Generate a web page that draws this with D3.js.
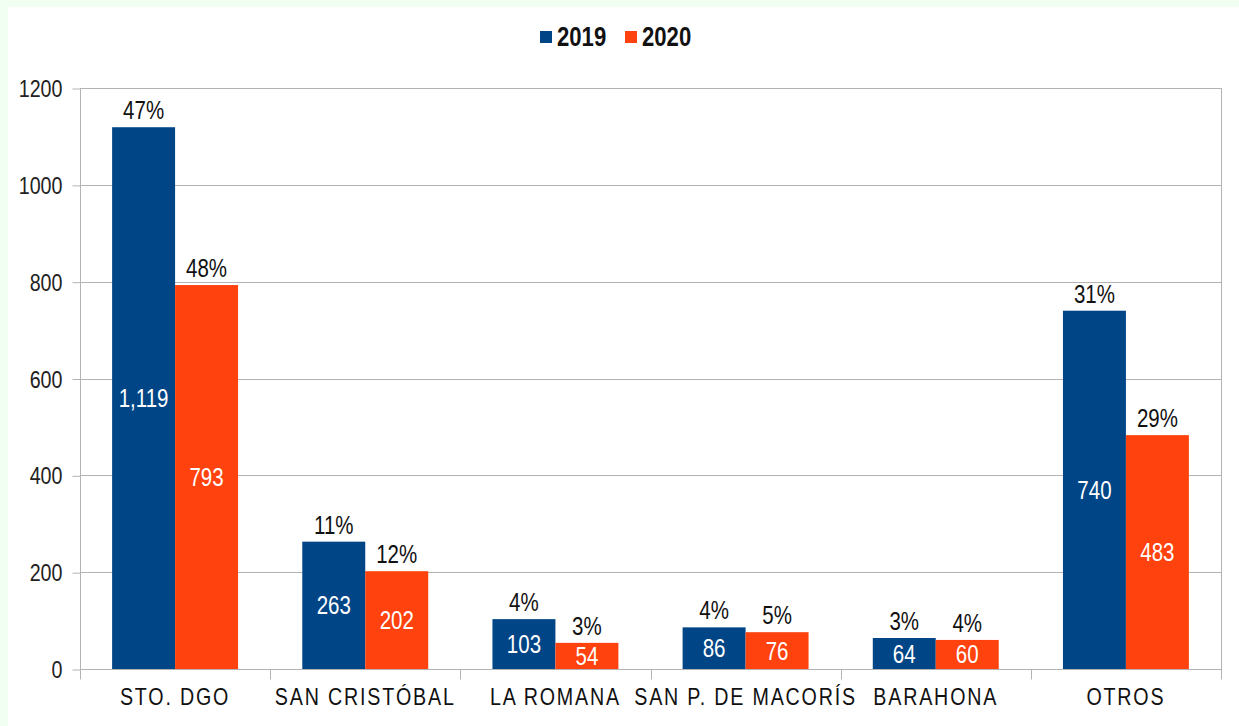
<!DOCTYPE html>
<html>
<head>
<meta charset="utf-8">
<script src="https://d3js.org/d3.v7.min.js"></script>
<style>
  body { margin: 0; background: #f0fff2; }
  svg { display: block; }
  text { font-family: 'Liberation Sans', Arial, sans-serif; }
</style>
</head>
<body>
<svg width="1239" height="726"></svg>
<script>
var categories = ["STO. DGO", "SAN CRISTÓBAL", "LA ROMANA", "SAN P. DE MACORÍS", "BARAHONA", "OTROS"];
var years = ["2019", "2020"];
var values2019 = [1119, 263, 103, 86, 64, 740];
var values2020 = [793, 202, 54, 76, 60, 483];
var pct2019 = ["47%", "11%", "4%", "4%", "3%", "31%"];
var pct2020 = ["48%", "12%", "3%", "5%", "4%", "29%"];
var yTicks = [0, 200, 400, 600, 800, 1000, 1200];

var colors = { "2019": "#004586", "2020": "#ff420e" };
var NARROW = 0.82; // squeeze Liberation Sans to look like the narrow face

var svg = d3.select("svg");

// place a text at (x, y) and squeeze it horizontally
function at(x, y) {
    return "translate(" + x + "," + y + ") scale(" + NARROW + ",1)";
}

// white card
svg.append("rect")
    .attr("x", 8).attr("y", 7)
    .attr("width", 1239 - 8).attr("height", 726 - 7)
    .attr("fill", "#fff");

var margin = { left: 80, right: 1221, top: 88, bottom: 669 };

var x0 = d3.scaleBand()
    .domain(categories)
    .range([margin.left, margin.right]);

var x1 = d3.scaleBand()
    .domain(years)
    .range([0, x0.bandwidth()])
    .paddingOuter(0.51);

var y = d3.scaleLinear()
    .domain([0, 1200])
    .range([margin.bottom, margin.top]);

var data = categories.map(function(c, i) {
    return {
        cat: c,
        bars: [
            { year: "2019", value: values2019[i], pct: pct2019[i] },
            { year: "2020", value: values2020[i], pct: pct2020[i] }
        ]
    };
});

// gridlines
svg.append("g")
    .selectAll("line")
    .data(yTicks)
    .enter().append("line")
    .attr("x1", margin.left)
    .attr("x2", margin.right)
    .attr("y1", function(d) { return Math.round(y(d)) + 0.5; })
    .attr("y2", function(d) { return Math.round(y(d)) + 0.5; })
    .attr("stroke", "#b3b3b3");

// right border
svg.append("line")
    .attr("x1", margin.right + 0.5).attr("x2", margin.right + 0.5)
    .attr("y1", margin.top).attr("y2", margin.bottom)
    .attr("stroke", "#b3b3b3");

// bars
var groups = svg.append("g")
    .selectAll("g")
    .data(data)
    .enter().append("g")
    .attr("transform", function(d) { return "translate(" + x0(d.cat) + ",0)"; });

groups.selectAll("rect")
    .data(function(d) { return d.bars; })
    .enter().append("rect")
    .attr("x", function(d) { return x1(d.year); })
    .attr("width", x1.bandwidth())
    .attr("y", function(d) { return y(d.value); })
    .attr("height", function(d) { return y(0) - y(d.value); })
    .attr("fill", function(d) { return colors[d.year]; });

// value labels inside bars
groups.selectAll("text.val")
    .data(function(d) { return d.bars; })
    .enter().append("text")
    .attr("class", "val")
    .attr("transform", function(d) {
        return at(x1(d.year) + x1.bandwidth() / 2, (y(d.value) + y(0)) / 2 + 9);
    })
    .attr("text-anchor", "middle")
    .attr("fill", "#fff")
    .style("font-size", "25px")
    .text(function(d) { return d3.format(",")(d.value); });

// percent labels above bars
groups.selectAll("text.pct")
    .data(function(d) { return d.bars; })
    .enter().append("text")
    .attr("class", "pct")
    .attr("transform", function(d) {
        return at(x1(d.year) + x1.bandwidth() / 2, y(d.value) - 8);
    })
    .attr("text-anchor", "middle")
    .attr("fill", "#111")
    .style("font-size", "25px")
    .text(function(d) { return d.pct; });

// y axis
var yAxis = svg.append("g")
    .attr("transform", "translate(" + (margin.left + 0.5) + ",0.5)")
    .call(d3.axisLeft(y).tickValues(yTicks).tickSize(8).tickFormat(d3.format("d")));
yAxis.selectAll("line, path").attr("stroke", "#b3b3b3");
yAxis.select(".domain").attr("d", "M0," + y(1200) + "V" + y(0));
yAxis.selectAll(".tick text")
    .attr("x", null).attr("dy", null)
    .attr("transform", at(-18, 8))
    .attr("fill", "#222")
    .style("font-size", "24px");
yAxis.attr("font-family", null).attr("font-size", null);

// x axis
var xAxis = svg.append("g")
    .attr("transform", "translate(0," + (margin.bottom + 0.5) + ")");
xAxis.append("line")
    .attr("x1", margin.left).attr("x2", margin.right + 1)
    .attr("stroke", "#b3b3b3");
xAxis.selectAll("line.tick")
    .data(d3.range(categories.length + 1))
    .enter().append("line")
    .attr("class", "tick")
    .attr("x1", function(i) { return Math.round(margin.left + i * x0.bandwidth()) + 0.5; })
    .attr("x2", function(i) { return Math.round(margin.left + i * x0.bandwidth()) + 0.5; })
    .attr("y1", 0).attr("y2", 10)
    .attr("stroke", "#b3b3b3");
xAxis.selectAll("text")
    .data(categories)
    .enter().append("text")
    .attr("transform", function(d) { return at(x0(d) + x0.bandwidth() / 2, 35); })
    .attr("text-anchor", "middle")
    .attr("fill", "#111")
    .style("font-size", "24px")
    .style("letter-spacing", "2.2px")
    .text(function(d) { return d; });

// legend
var legend = svg.append("g");
var legendX = { "2019": 540, "2020": 625 };
years.forEach(function(yr) {
    legend.append("rect")
        .attr("x", legendX[yr]).attr("y", 31)
        .attr("width", 12).attr("height", 12)
        .attr("fill", colors[yr]);
    legend.append("text")
        .attr("transform", at(legendX[yr] + 17, 46))
        .attr("fill", "#111")
        .style("font-weight", "bold")
        .style("font-size", "27px")
        .text(yr);
});
</script>
</body>
</html>
